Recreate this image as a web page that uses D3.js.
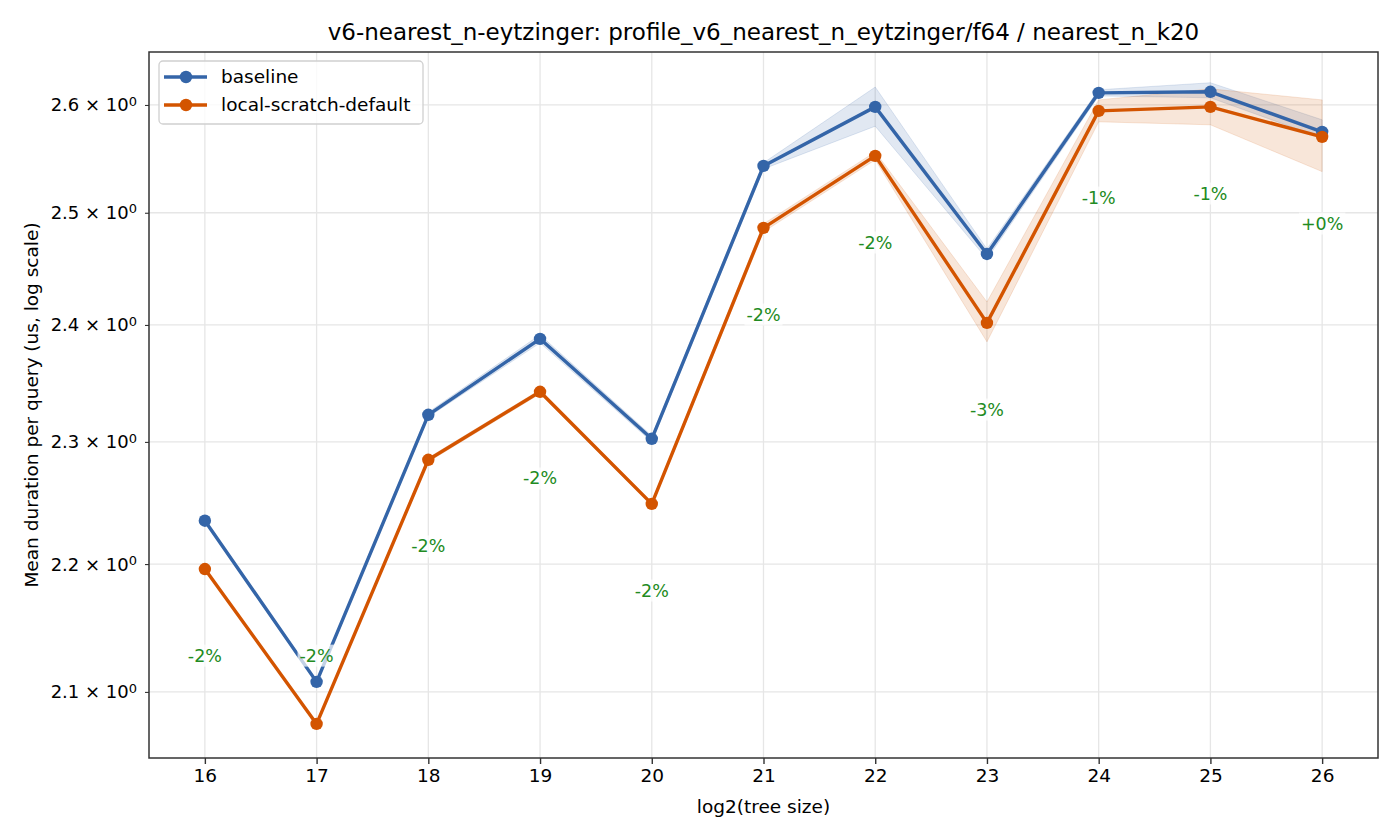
<!DOCTYPE html>
<html>
<head>
<meta charset="utf-8">
<script src="https://cdn.jsdelivr.net/npm/d3@7"></script>
<style>
  body { margin: 0; background: #fff; }
  svg { font-family: "DejaVu Sans", sans-serif; }
</style>
</head>
<body>
<svg id="chart" width="1400" height="840"></svg>
<script>
// data
const sizes = [16, 17, 18, 19, 20, 21, 22, 23, 24, 25, 26];

const baseline   = [2.235, 2.1077, 2.3228, 2.3879, 2.3026, 2.5430, 2.5982, 2.4628, 2.6115, 2.6125, 2.5747];
const baselineHi = [2.236, 2.109, 2.325, 2.3914, 2.3051, 2.5458, 2.617, 2.4673, 2.6144, 2.6211, 2.586];
const baselineLo = [2.234, 2.106, 2.321, 2.3844, 2.3001, 2.5402, 2.580, 2.4583, 2.6086, 2.6068, 2.569];

const scratch   = [2.1960, 2.0757, 2.2851, 2.3423, 2.2487, 2.4863, 2.5523, 2.4018, 2.5944, 2.5982, 2.5700];
const scratchHi = [2.197, 2.0765, 2.2868, 2.3440, 2.2503, 2.4899, 2.5560, 2.4202, 2.6048, 2.6153, 2.6048];
const scratchLo = [2.195, 2.0749, 2.2834, 2.3406, 2.2471, 2.4827, 2.5486, 2.3853, 2.5841, 2.5813, 2.5377];

const deltaLabels = ["-2%", "-2%", "-2%", "-2%", "-2%", "-2%", "-2%", "-3%", "-1%", "-1%", "+0%"];

const yTicks = [2.1, 2.2, 2.3, 2.4, 2.5, 2.6];

const series = [
  { name: "baseline", values: baseline, hi: baselineHi, lo: baselineLo, color: "#3465a8" },
  { name: "local-scratch-default", values: scratch, hi: scratchHi, lo: scratchLo, color: "#d35400" }
];

const margin = { top: 52, right: 22, bottom: 82, left: 149 };
const width = 1400, height = 840;
const fs = 18.5;   // base font size (10pt at this figure's dpi)

const svg = d3.select("#chart");

const x = d3.scaleLinear()
  .domain([15.5, 26.5])
  .range([margin.left, width - margin.right]);

const y = d3.scaleLog()
  .domain([2.0501, 2.6506])
  .range([height - margin.bottom, margin.top]);

// grid
const grid = svg.append("g");
grid.selectAll("line.gx")
  .data(sizes)
  .join("line")
  .attr("x1", d => x(d)).attr("x2", d => x(d))
  .attr("y1", margin.top).attr("y2", height - margin.bottom)
  .attr("stroke", "#e6e6e6").attr("stroke-width", 1.3);
grid.selectAll("line.gy")
  .data(yTicks)
  .join("line")
  .attr("x1", margin.left).attr("x2", width - margin.right)
  .attr("y1", d => y(d)).attr("y2", d => y(d))
  .attr("stroke", "#e6e6e6").attr("stroke-width", 1.3);

// bands
const area = d3.area()
  .x(d => x(d.x))
  .y0(d => y(d.lo))
  .y1(d => y(d.hi));

series.forEach(s => {
  const pts = sizes.map((v, i) => ({ x: v, lo: s.lo[i], hi: s.hi[i] }));
  svg.append("path")
    .datum(pts)
    .attr("d", area)
    .attr("fill", s.color)
    .attr("fill-opacity", 0.15)
    .attr("stroke", s.color)
    .attr("stroke-opacity", 0.15)
    .attr("stroke-width", 1);
});

// lines and markers
const line = d3.line()
  .x(d => x(d.x))
  .y(d => y(d.v));

series.forEach(s => {
  const pts = sizes.map((v, i) => ({ x: v, v: s.values[i] }));
  svg.append("path")
    .datum(pts)
    .attr("d", line)
    .attr("fill", "none")
    .attr("stroke", s.color)
    .attr("stroke-width", 3.4)
    .attr("stroke-linejoin", "round");
  svg.append("g")
    .selectAll("circle")
    .data(pts)
    .join("circle")
    .attr("cx", d => x(d.x))
    .attr("cy", d => y(d.v))
    .attr("r", 6.2)
    .attr("fill", s.color);
});

// delta annotations (placed a bit under the lower of the two points)
const labelFloor = 2.128;
const notes = svg.append("g");
sizes.forEach((v, i) => {
  const ly = Math.max(Math.min(baseline[i], scratch[i]) * 0.969, labelFloor);
  const g = notes.append("g").attr("transform", `translate(${x(v)},${y(ly)})`);
  const t = g.append("text")
    .attr("text-anchor", "middle")
    .attr("dy", "0.35em")
    .attr("font-size", fs - 1)
    .attr("fill", "#228b22")
    .text(deltaLabels[i]);
  const bb = t.node().getBBox();
  g.insert("rect", "text")
    .attr("x", bb.x - 2).attr("y", bb.y - 1)
    .attr("width", bb.width + 4).attr("height", bb.height + 2)
    .attr("fill", "#fff").attr("fill-opacity", 0.7);
});

// axes
const xAxis = svg.append("g")
  .attr("transform", `translate(0,${height - margin.bottom})`)
  .call(d3.axisBottom(x).tickValues(sizes).tickFormat(d3.format("d")).tickSize(6).tickPadding(5));
xAxis.select(".domain").remove();
xAxis.selectAll("line").attr("stroke", "#333").attr("stroke-width", 1.4);
xAxis.selectAll("text").attr("font-size", fs).attr("fill", "#000").attr("font-family", "DejaVu Sans");

const yAxis = svg.append("g")
  .attr("transform", `translate(${margin.left},0)`)
  .call(d3.axisLeft(y).tickValues(yTicks).tickFormat("").tickSize(4));
yAxis.select(".domain").remove();
yAxis.selectAll("line").attr("stroke", "#333").attr("stroke-width", 1.1);

const yLabels = svg.append("g");
yTicks.forEach(t => {
  const txt = yLabels.append("text")
    .attr("x", margin.left - 12)
    .attr("y", y(t))
    .attr("dy", "0.36em")
    .attr("text-anchor", "end")
    .attr("font-size", fs - 0.5)
    .attr("fill", "#000");
  txt.append("tspan").text(`${t.toFixed(1)} \u00d7 10`);
  txt.append("tspan").attr("dy", "-0.45em").attr("font-size", 13).text("0");
});

// frame
svg.append("rect")
  .attr("x", margin.left).attr("y", margin.top)
  .attr("width", width - margin.left - margin.right)
  .attr("height", height - margin.top - margin.bottom)
  .attr("fill", "none")
  .attr("stroke", "#333")
  .attr("stroke-width", 1.5);

// titles
svg.append("text")
  .attr("x", (margin.left + width - margin.right) / 2)
  .attr("y", 40)
  .attr("text-anchor", "middle")
  .attr("font-size", 23)
  .text("v6-nearest_n-eytzinger: profile_v6_nearest_n_eytzinger/f64 / nearest_n_k20");

svg.append("text")
  .attr("x", (margin.left + width - margin.right) / 2)
  .attr("y", 813)
  .attr("text-anchor", "middle")
  .attr("font-size", fs)
  .text("log2(tree size)");

svg.append("text")
  .attr("transform", `translate(38,${(margin.top + height - margin.bottom) / 2}) rotate(-90)`)
  .attr("text-anchor", "middle")
  .attr("font-size", fs)
  .text("Mean duration per query (us, log scale)");

// legend
const legend = svg.append("g").attr("transform", `translate(${margin.left + 10},${margin.top + 9})`);
legend.append("rect")
  .attr("width", 264).attr("height", 63)
  .attr("rx", 4)
  .attr("fill", "#fff").attr("fill-opacity", 0.8)
  .attr("stroke", "#d0d0d0")
  .attr("stroke-width", 1.3);
series.forEach((s, i) => {
  const row = legend.append("g").attr("transform", `translate(0,${16 + i * 28})`);
  row.append("line")
    .attr("x1", 5).attr("x2", 48)
    .attr("stroke", s.color).attr("stroke-width", 3.4);
  row.append("circle").attr("cx", 27).attr("r", 6.2).attr("fill", s.color);
  row.append("text")
    .attr("x", 62).attr("dy", "0.35em")
    .attr("font-size", fs)
    .text(s.name);
});
</script>
</body>
</html>
